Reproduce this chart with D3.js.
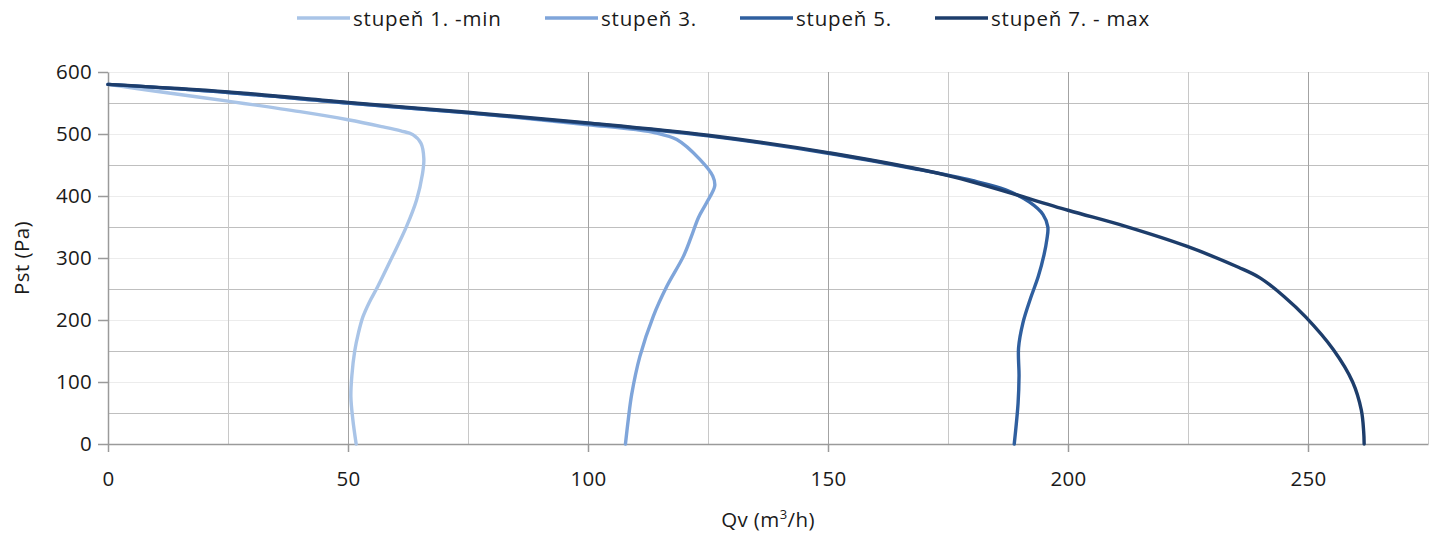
<!DOCTYPE html>
<html>
<head>
<meta charset="utf-8">
<script src="https://cdn.jsdelivr.net/npm/d3@7"></script>
<style>
    body { margin: 0; background: #fff; }
    svg text { font-family: "Open Sans", "Noto Sans", sans-serif; fill: #1a1a1a; }
</style>
</head>
<body>
<svg id="chart" width="1429" height="536"></svg>
<script>
    // data (Qv in m3/h, Pst in Pa)
    const seriesNames = ["stupeň 1. -min", "stupeň 3.", "stupeň 5.", "stupeň 7. - max"];
    const seriesColors = ["#a9c4e7", "#7fa5da", "#2f5f9f", "#1d3d6b"];

    const stupen1 = [[0,580],[10,569],[25,553],[40,536],[50,523],[57,512],[61,505],[63.5,499],[65.2,485],[65.8,460],[65.5,435],[64.3,394],[62.2,351],[59.1,300],[56.2,254],[54.4,228],[53.1,205],[52.2,180],[51.4,150],[50.8,110],[50.6,76],[51,40],[51.7,0]];
    const stupen3 = [[0,580],[25,567],[50,550],[75,534],[100,515],[110,507],[114,502],[118.5,491],[123.3,459],[126,432],[126.4,416],[124.7,389],[123,365],[121.5,334],[119.9,303],[116.4,254],[113.6,206],[110.8,141],[109.1,80],[108.4,40],[107.8,0]];
    const stupen5 = [[0,580],[25,567],[50,550],[75,534],[100,517],[125,497],[150,469],[168,444],[180,425],[187,410],[192,390],[194.8,370],[195.8,350],[195.6,330],[195,305],[193.8,270],[192.2,235],[190.6,195],[189.7,155],[189.8,110],[189.6,66],[188.8,0]];
    const stupen7 = [[0,580],[25,568],[50,551],[75,535],[100,518],[125,498],[150,470],[175,433],[200,377],[212,351],[224.7,319],[235.5,285],[240,268],[245,238],[249.5,205],[255.3,152],[259.3,100],[261.1,55],[261.6,20],[261.7,0]];
    const allSeries = [stupen1, stupen3, stupen5, stupen7];

    const xTicks = [0, 50, 100, 150, 200, 250];
    const xMinor = [25, 75, 125, 175, 225, 275];
    const yTicks = [0, 100, 200, 300, 400, 500, 600];
    const yMinor = [50, 150, 250, 350, 450, 550];

    const svg = d3.select("#chart");
    const mLeft = 108, mRight = 1428, mTop = 72, mBottom = 444;

    const x = d3.scaleLinear().domain([0, 275]).range([mLeft, mRight]);
    const y = d3.scaleLinear().domain([0, 600]).range([mBottom, mTop]);

    // grid
    const grid = svg.append("g").attr("shape-rendering", "crispEdges");
    grid.selectAll(".ymaj").data(yTicks.slice(1)).join("line")
        .attr("x1", mLeft).attr("x2", mRight)
        .attr("y1", d => Math.round(y(d)) + 0.5).attr("y2", d => Math.round(y(d)) + 0.5)
        .attr("stroke", "#ececec").attr("stroke-width", 1.5);
    grid.selectAll(".ymin").data(yMinor).join("line")
        .attr("x1", mLeft).attr("x2", mRight)
        .attr("y1", d => Math.round(y(d)) + 0.5).attr("y2", d => Math.round(y(d)) + 0.5)
        .attr("stroke", "#bfbfbf").attr("stroke-width", 1.5);
    grid.selectAll(".xmin").data(xMinor).join("line")
        .attr("x1", d => Math.round(x(d)) + 0.5).attr("x2", d => Math.round(x(d)) + 0.5)
        .attr("y1", mTop).attr("y2", mBottom)
        .attr("stroke", "#c8c8c8").attr("stroke-width", 1.5);
    grid.selectAll(".xmaj").data(xTicks.slice(1)).join("line")
        .attr("x1", d => Math.round(x(d)) + 0.5).attr("x2", d => Math.round(x(d)) + 0.5)
        .attr("y1", mTop).attr("y2", mBottom)
        .attr("stroke", "#a3a3a3").attr("stroke-width", 1.5);

    // axes
    const xAxis = svg.append("g")
        .attr("transform", `translate(0,${mBottom})`)
        .call(d3.axisBottom(x).tickValues(xTicks).tickSize(8).tickPadding(19).tickSizeOuter(0));
    const yAxis = svg.append("g")
        .attr("transform", `translate(${mLeft},0)`)
        .call(d3.axisLeft(y).tickValues(yTicks).tickSize(10).tickPadding(6).tickSizeOuter(0));
    [xAxis, yAxis].forEach(a => {
        a.select(".domain").attr("stroke", "#9a9a9a").attr("stroke-width", 1.5);
        a.selectAll(".tick line").attr("stroke", "#9a9a9a").attr("stroke-width", 1.5);
        a.selectAll(".tick text").attr("font-size", 20.5).attr("fill", "#1a1a1a")
            .attr("letter-spacing", 0.3)
            .attr("font-family", "'Open Sans', sans-serif");
    });

    // axis titles
    const xt = svg.append("text").attr("x", (mLeft + mRight) / 2).attr("y", 527)
        .attr("text-anchor", "middle").attr("font-size", 20.5).attr("letter-spacing", 0.4);
    xt.append("tspan").text("Qv (m");
    xt.append("tspan").attr("font-size", 13).attr("dy", -8).text("3");
    xt.append("tspan").attr("dy", 8).text("/h)");

    svg.append("text")
        .attr("transform", `translate(29,${(mTop + mBottom) / 2}) rotate(-90)`)
        .attr("text-anchor", "middle").attr("font-size", 20.5).attr("letter-spacing", 0.4)
        .text("Pst (Pa)");

    // lines
    const line = d3.line()
        .x(d => x(d[0])).y(d => y(d[1]))
        .curve(d3.curveCatmullRom.alpha(0.5));

    svg.append("g").selectAll("path").data(allSeries).join("path")
        .attr("d", line)
        .attr("fill", "none")
        .attr("stroke", (d, i) => seriesColors[i])
        .attr("stroke-width", 3.4)
        .attr("stroke-linejoin", "round").attr("stroke-linecap", "round");

    // legend
    const legendX = [297, 545, 740, 935];
    const lg = svg.append("g").selectAll("g").data(seriesNames).join("g")
        .attr("transform", (d, i) => `translate(${legendX[i]},18)`);
    lg.append("line").attr("x1", 0).attr("x2", 53).attr("y1", 0).attr("y2", 0)
        .attr("stroke", (d, i) => seriesColors[i]).attr("stroke-width", 3.5);
    lg.append("text").attr("x", 56).attr("y", 7.5).attr("font-size", 20.5)
        .attr("letter-spacing", 0.8).text(d => d);
</script>
</body>
</html>
